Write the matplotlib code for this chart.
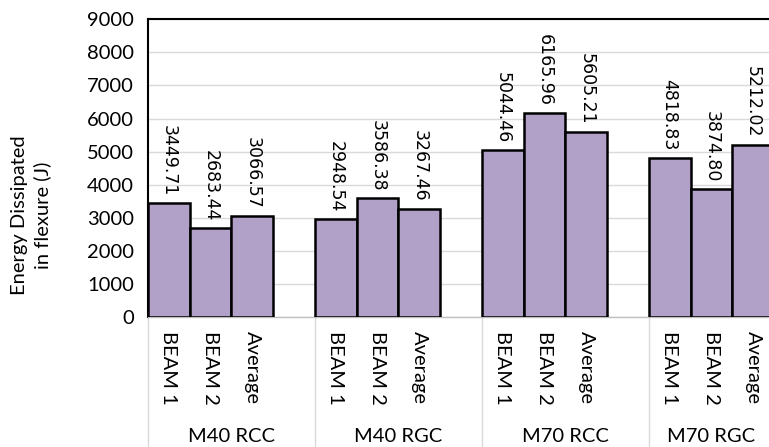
import numpy as np
import matplotlib.pyplot as plt

groups = ['M40 RCC', 'M40 RGC', 'M70 RCC', 'M70 RGC']
bars = ['BEAM 1', 'BEAM 2', 'Average']
values = [[3449.71, 2683.44, 3066.57],
          [2948.54, 3586.38, 3267.46],
          [5044.46, 6165.96, 5605.21],
          [4818.83, 3874.80, 5212.02]]

fig = plt.figure(figsize=(7.69, 4.47), dpi=100)
ax = fig.add_axes([148 / 769, 1 - 317 / 447, 626 / 769, (317 - 19.3) / 447])

pos = []
vals = []
labs = []
for g in range(len(groups)):
    for i in range(len(bars)):
        pos.append(4 * g + i)
        vals.append(values[g][i])
        labs.append(bars[i])

ax.bar(pos, vals, width=1.0, color='#B1A0C7', edgecolor='black', linewidth=1.8, zorder=3)
for x, v in zip(pos, vals):
    ax.annotate('%.2f' % v, (x, v), xytext=(0, 5), textcoords='offset points',
                rotation=270, ha='center', va='bottom', fontsize=12.5,
                family='DejaVu Sans', color='black', zorder=4)

ax.set_xlim(-0.5, 14.5)
ax.set_ylim(0, 9000)
ax.set_yticks(np.arange(0, 9001, 1000))
ax.yaxis.grid(True, color='#D9D9D9', linewidth=1, zorder=0)
ax.set_xticks(pos)
ax.set_xticklabels(labs, rotation=270, family='Lato', fontsize=14.5)
ax.tick_params(axis='x', length=0, pad=10)
ax.tick_params(axis='y', length=0, pad=10, labelsize=14.5)
for t in ax.get_yticklabels():
    t.set_family('Lato')

ax.spines['left'].set_linewidth(1.5)
ax.spines['top'].set_linewidth(1.5)
ax.spines['right'].set_visible(False)
ax.spines['bottom'].set_color('#BFBFBF')
ax.spines['bottom'].set_linewidth(1)

tr = ax.get_xaxis_transform()
for g in range(len(groups)):
    ax.plot([4 * g - 0.5] * 2, [0, -0.5], transform=tr, clip_on=False,
            color='#D9D9D9', linewidth=1)
    right = min(4 * g + 3.5, 14.5)
    ax.text((4 * g - 0.5 + right) / 2, -0.403, groups[g], transform=tr,
            ha='center', va='center', family='Lato', fontsize=14.5)

fig.text(31 / 769, 1 - 215 / 447, 'Energy Dissipated\nin flexure (J)', rotation=90,
         ha='center', va='center', multialignment='center', family='Lato',
         fontsize=14.5, linespacing=1.3)

fig.savefig('out.png', dpi=100)
